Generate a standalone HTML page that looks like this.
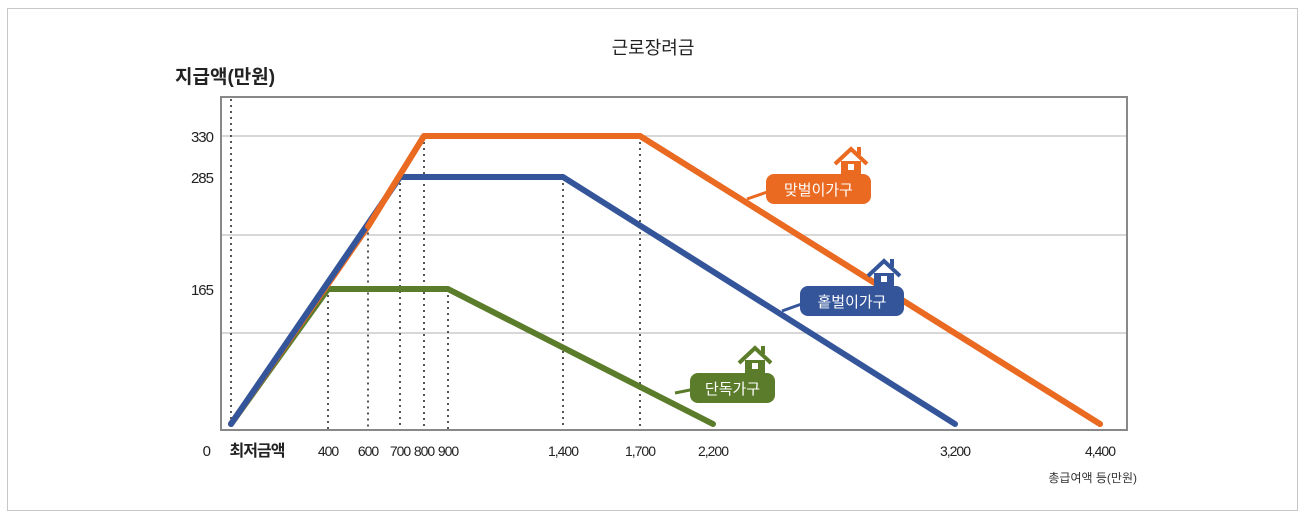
<!DOCTYPE html>
<html><head><meta charset="utf-8"><style>
body{margin:0;background:#fff;}
svg{display:block;font-family:"Liberation Sans","Noto Sans CJK KR",sans-serif;}
</style></head><body>
<svg id="chart" width="1306" height="517" viewBox="0 0 1306 517">
<rect x="7.5" y="8.5" width="1290" height="502" fill="#fff" stroke="#c8c8c8"/>
<text x="653" y="54" text-anchor="middle" font-size="18" fill="#222">근로장려금</text>
<text x="175" y="83" font-size="19" font-weight="bold" fill="#222">지급액(만원)</text>
<text x="1137" y="482" text-anchor="end" font-size="12" fill="#333">총급여액 등(만원)</text>
<g id="grid"></g>
<g id="drops"></g>
<rect x="221" y="97" width="906" height="333" fill="none" stroke="#888" stroke-width="2"/>
<g id="series"></g>
<g id="ticks"></g>
<g id="labels"></g>
</svg>
<script>
const NS='http://www.w3.org/2000/svg';
const xTickValues=[0,400,600,700,800,900,1400,1700,2200,3200,4400];
const xTickLabels=['최저금액','400','600','700','800','900','1,400','1,700','2,200','3,200','4,400'];
const yTickValues=[0,165,285,330];
const yTickLabels=['0','165','285','330'];
const dualIncome=[[0,0],[600,232],[800,330],[1700,330],[4400,0]];
const singleIncome=[[0,0],[700,285],[1400,285],[3200,0]];
const singlePerson=[[0,0],[400,165],[900,165],[2200,0]];
const xPix=[231,328,368,400,424,448,563,640,713,955,1100];
const yPix=[424,289,177,136];
function interp(v,vals,pix){
  for(let i=0;i<vals.length-1;i++){
    if(v<=vals[i+1]||i===vals.length-2){
      return pix[i]+(v-vals[i])/(vals[i+1]-vals[i])*(pix[i+1]-pix[i]);
    }
  }
}
const X=v=>interp(v,xTickValues,xPix);
const Y=v=>interp(v,yTickValues,yPix);
function mk(tag,attrs,parent){const e=document.createElementNS(NS,tag);for(const k in attrs)e.setAttribute(k,attrs[k]);parent.appendChild(e);return e;}
const grid=document.getElementById('grid'),drops=document.getElementById('drops'),series=document.getElementById('series'),ticks=document.getElementById('ticks'),labels=document.getElementById('labels');
[136,235,333].forEach(y=>{
  const l=mk('line',{x1:221,x2:1127,y1:y,y2:y,stroke:'#ccc','stroke-width':1.5},grid);
  
  
});
yTickValues.forEach((v,i)=>{
  const y=i===0?456:Y(v)+6;
  const t=mk('text',{x:i===0?210:213,y:y,'text-anchor':'end','font-size':15,fill:'#222','letter-spacing':-1},ticks);
  t.textContent=yTickLabels[i];
  
  
});
xTickValues.forEach((v,i)=>{
  const t=mk('text',{x:X(v)+(i===0?26:0),y:456,'text-anchor':'middle','font-size':i===0?16:14,'font-weight':i===0?'bold':'normal',fill:'#222','letter-spacing':-1},ticks);
  t.textContent=xTickLabels[i];
  
  
});
const allSeries=[dualIncome,singleIncome,singlePerson];
const dropDone={};
allSeries.forEach(s=>s.forEach(p=>{
  if(p[0]===0||p[1]===0)return;
  const key=p[0];
  const top=Y(p[1]);
  if(dropDone[key]!==undefined&&dropDone[key]<=top)return;
  dropDone[key]=top;
}));
dropDone[0]=99;
for(const k in dropDone){
  const l=mk('line',{x1:X(+k),x2:X(+k),y1:dropDone[k],y2:430,stroke:'#555','stroke-width':2,'stroke-dasharray':'2,4'},drops);
  
  
}
function drawSeries(data,color,name){
  const pts=data.map(p=>X(p[0]).toFixed(1)+','+Y(p[1]).toFixed(1)).join(' ');
  const pl=mk('polyline',{points:pts,fill:'none',stroke:color,'stroke-width':6,'stroke-linecap':'round','stroke-linejoin':'round'},series);
  
  
}
drawSeries(singlePerson,'#5b7c2a','single-person-line');
drawSeries(dualIncome,'#ea6a22','dual-income-line');
drawSeries(singleIncome,'#34559a','single-income-line');
drawSeries(dualIncome.slice(1),'#ea6a22','dual-income-upper-line');
function callout(x,y,w,text,color,tx,ty,name){
  const g=mk('g',{},labels);
  
  
  const hx=x+w-20,hy=y;
  mk('path',{d:`M${hx-16},${hy-10} L${hx},${hy-25} L${hx+16},${hy-10}`,fill:'none',stroke:color,'stroke-width':4},g);
  mk('rect',{x:hx+6,y:hy-27,width:4,height:8,fill:color},g);
  mk('rect',{x:hx-10,y:hy-13,width:20,height:14,fill:color},g);
  mk('rect',{x:hx-3,y:hy-10,width:6,height:6,fill:'#fff'},g);
  mk('path',{d:`M${tx},${ty} L${x+10},${y+15}`,fill:'none',stroke:color,'stroke-width':3},g);
  mk('rect',{x:x,y:y,width:w,height:30,rx:8,fill:color},g);
  const t=mk('text',{x:x+w/2,y:y+21,'text-anchor':'middle','font-size':15,fill:'#fff'},g);
  t.textContent=text;
}
callout(766,174,105,'맞벌이가구','#ea6a22',747,199,'dual-income-label');
callout(800,286,104,'홑벌이가구','#34559a',782,311,'single-income-label');
callout(690,373,85,'단독가구','#5b7c2a',675,393,'single-person-label');
</script>
</body></html>
